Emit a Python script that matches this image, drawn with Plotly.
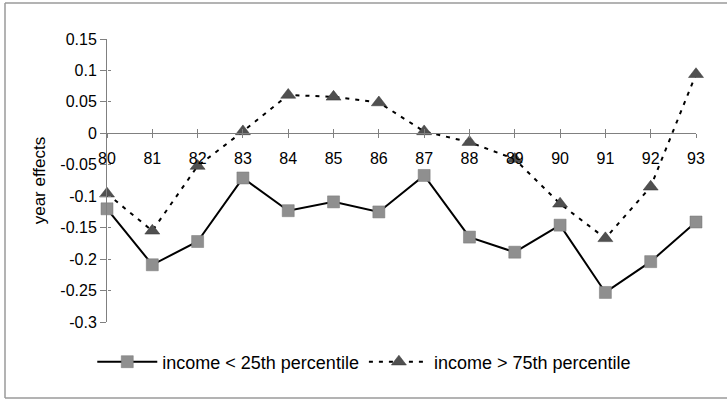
import plotly.graph_objects as go

years = [80, 81, 82, 83, 84, 85, 86, 87, 88, 89, 90, 91, 92, 93]
tick_labels = [str(y) for y in years]
low_income = [-0.120, -0.209, -0.172, -0.071, -0.123, -0.109, -0.125,
              -0.067, -0.165, -0.189, -0.146, -0.253, -0.204, -0.141]
high_income = [-0.096, -0.155, -0.052, 0.003, 0.061, 0.058, 0.049,
               0.003, -0.014, -0.041, -0.112, -0.167, -0.085, 0.094]
y_ticks = [0.15, 0.1, 0.05, 0, -0.05, -0.1, -0.15, -0.2, -0.25, -0.3]
y_tick_text = ["0.15", "0.1", "0.05", "0", "-0.05", "-0.1", "-0.15", "-0.2", "-0.25", "-0.3"]

W, H = 727, 399
L, R, T, B = 107, 31, 39, 77
pw, ph = W - L - R, H - T - B
ymin, ymax = -0.3, 0.15
TICK_FS = 16
LEG_FS = 18
AX_COL = "#808080"
FRAME_COL = "#9a9a9a"

fig = go.Figure()
fig.add_trace(go.Scatter(
    x=years, y=low_income, mode="lines+markers",
    name="income < 25th percentile",
    line=dict(color="black", width=2),
    marker=dict(symbol="square", size=12, color="#8f8f8f",
                line=dict(color="#777777", width=0.5)),
    cliponaxis=False,
))
fig.add_trace(go.Scatter(
    x=years, y=high_income, mode="lines+markers",
    name="income > 75th percentile",
    line=dict(color="black", width=2, dash="4px,6px"),
    marker=dict(symbol="triangle-up", size=13, color="#505050",
                line=dict(color="#333333", width=0.5)),
    cliponaxis=False,
))
# carrier trace for the overlay axes that draw the inner half of the crossing ticks
fig.add_trace(go.Scatter(
    x=years, y=low_income, mode="none", xaxis="x2", yaxis="y2",
    showlegend=False, hoverinfo="skip",
))

zero_pos = (0 - ymin) / (ymax - ymin)

fx0 = (5 - L) / pw
fx1 = (W + 20 - L) / pw
fy0 = -(398 - (T + ph)) / ph
fy1 = 1 + (T - 3) / ph
frame = [
    dict(type="line", xref="paper", yref="paper", x0=fx0, x1=fx0, y0=fy0, y1=fy1,
         line=dict(color=FRAME_COL, width=1.5)),
    dict(type="line", xref="paper", yref="paper", x0=fx0, x1=fx1, y0=fy1, y1=fy1,
         line=dict(color=FRAME_COL, width=1.5)),
    dict(type="line", xref="paper", yref="paper", x0=fx0, x1=fx1, y0=fy0, y1=fy0,
         line=dict(color=FRAME_COL, width=1.5)),
]

fig.update_layout(
    width=W, height=H,
    margin=dict(l=L, r=R, t=T, b=B),
    paper_bgcolor="white", plot_bgcolor="white",
    font=dict(family="Liberation Sans, Arial, sans-serif", size=TICK_FS, color="black"),
    xaxis=dict(
        range=[80, 93], tickmode="array", tickvals=years, ticktext=tick_labels,
        anchor="free", position=zero_pos, automargin=False,
        showline=True, linecolor=AX_COL, linewidth=1,
        ticks="outside", ticklen=4, tickcolor=AX_COL,
        ticklabelstandoff=6,
        showgrid=False, zeroline=False, tickfont=dict(size=TICK_FS),
    ),
    xaxis2=dict(
        range=[80, 93], tickmode="array", tickvals=years,
        overlaying="x", anchor="free", position=zero_pos, automargin=False,
        showline=False, ticks="inside", ticklen=4, tickcolor=AX_COL,
        showticklabels=False, showgrid=False, zeroline=False,
    ),
    yaxis=dict(
        range=[ymin, ymax], tickmode="array", tickvals=y_ticks, ticktext=y_tick_text,
        automargin=False,
        showline=True, linecolor=AX_COL, linewidth=1,
        ticks="outside", ticklen=6, tickcolor=AX_COL,
        showgrid=False, zeroline=False, tickfont=dict(size=TICK_FS),
        title=dict(text="year effects", font=dict(size=17), standoff=10),
    ),
    yaxis2=dict(
        range=[ymin, ymax], tickmode="array", tickvals=y_ticks,
        overlaying="y", anchor="free", position=0, automargin=False,
        showline=False, ticks="inside", ticklen=3, tickcolor=AX_COL,
        showticklabels=False, showgrid=False, zeroline=False,
    ),
    legend=dict(
        orientation="h", x=-0.025, xanchor="left", y=-(362 - (T + ph)) / ph,
        yanchor="middle", font=dict(size=LEG_FS), itemwidth=60,
        bgcolor="rgba(0,0,0,0)",
    ),
    shapes=frame,
)

fig.write_html("out.html", post_script="document.body.style.margin='0';",
               config={"displayModeBar": False})
